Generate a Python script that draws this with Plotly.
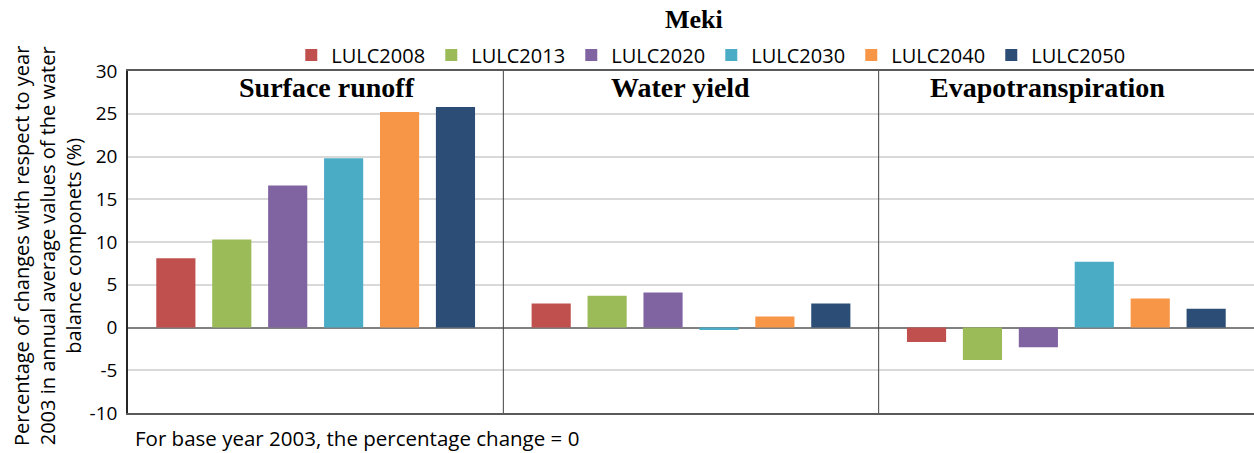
import plotly.graph_objects as go

categories = ["Surface runoff", "Water yield", "Evapotranspiration"]
series_names = ["LULC2008", "LULC2013", "LULC2020", "LULC2030", "LULC2040", "LULC2050"]
lulc2008 = [8.1, 2.8, -1.7]
lulc2013 = [10.3, 3.7, -3.8]
lulc2020 = [16.6, 4.1, -2.3]
lulc2030 = [19.8, -0.3, 7.7]
lulc2040 = [25.2, 1.3, 3.4]
lulc2050 = [25.8, 2.8, 2.2]
series_values = [lulc2008, lulc2013, lulc2020, lulc2030, lulc2040, lulc2050]
colors = ["#C0504D", "#9BBB59", "#8064A2", "#4BACC6", "#F79646", "#2C4D75"]
y_ticks = [-10, -5, 0, 5, 10, 15, 20, 25, 30]

fig = go.Figure()
for name, vals, col in zip(series_names, series_values, colors):
    fig.add_trace(go.Bar(x=categories, y=vals, name=name, marker_color=col,
                         marker_line_width=0))

sans = "Open Sans, Noto Sans, sans-serif"
serif = "Liberation Serif, DejaVu Serif, serif"

L, T, B = 128, 71, 40
PW, PH = 1254 - L, 453 - T - B


def px(xp):
    return (xp - L) / PW


def py(yp):
    return (453 - B - yp) / PH


fig.update_layout(
    width=1254, height=453,
    margin=dict(l=L, r=0, t=T, b=B, autoexpand=False),
    paper_bgcolor="white", plot_bgcolor="white",
    barmode="group", bargap=0.106, bargroupgap=0.30,
    showlegend=True,
    legend=dict(orientation="h", x=0.518, xanchor="center",
                yref="container", y=1 - 55 / 453, yanchor="middle",
                font=dict(family=sans, size=20, color="#000000"),
                entrywidth=95, itemwidth=30, traceorder="normal",
                bgcolor="rgba(0,0,0,0)"),
    font=dict(family=sans, color="#000000"),
)

fig.update_xaxes(showticklabels=False, showgrid=False, zeroline=False,
                 showline=True, linecolor="#595959", linewidth=1.5, mirror=True,
                 ticks="", automargin=False)
fig.update_yaxes(range=[-10, 30], tickvals=y_ticks, ticktext=[str(v) for v in y_ticks],
                 tickfont=dict(family=sans, size=19, color="#000000"),
                 showgrid=True, gridcolor="#D9D9D9", gridwidth=1.5,
                 zeroline=True, zerolinecolor="#808080", zerolinewidth=1.5,
                 showline=True, linecolor="#262626", linewidth=1.5, mirror=True,
                 ticks="", ticklabelstandoff=5, automargin=False)

for xpos in [0.5, 1.5]:
    fig.add_shape(type="line", xref="x", yref="y", x0=xpos, x1=xpos, y0=-10, y1=30,
                  line=dict(color="#404040", width=1))

title_shifts = [11, -11, -19]
for cat, sh in zip(categories, title_shifts):
    fig.add_annotation(x=cat, y=1, xref="x", yref="paper", yanchor="middle", yshift=-16,
                       xshift=sh, text="<b>%s</b>" % cat, showarrow=False,
                       font=dict(family=serif, size=28, color="#000000"))

fig.add_annotation(x=px(694), y=py(20), xref="paper", yref="paper", text="<b>Meki</b>",
                   showarrow=False, xanchor="center", yanchor="middle",
                   font=dict(family=serif, size=26, color="#000000"))

fig.add_annotation(x=px(47), y=py(246), xref="paper", yref="paper", textangle=-90,
                   xanchor="center", yanchor="middle", showarrow=False,
                   text="Percentage of changes with respect to year<br>2003 in annual average values of the water<br>balance componets (%)",
                   font=dict(family=sans, size=20, color="#000000"))

fig.add_annotation(x=px(133), y=py(438), xref="paper", yref="paper",
                   xanchor="left", yanchor="middle", showarrow=False,
                   text="For base year 2003, the percentage change = 0",
                   font=dict(family=sans, size=20.5, color="#000000"))

fig.write_html("out.html", config={"displayModeBar": False},
               post_script="document.body.style.margin='0';document.body.style.padding='0';document.body.style.overflow='hidden';")
